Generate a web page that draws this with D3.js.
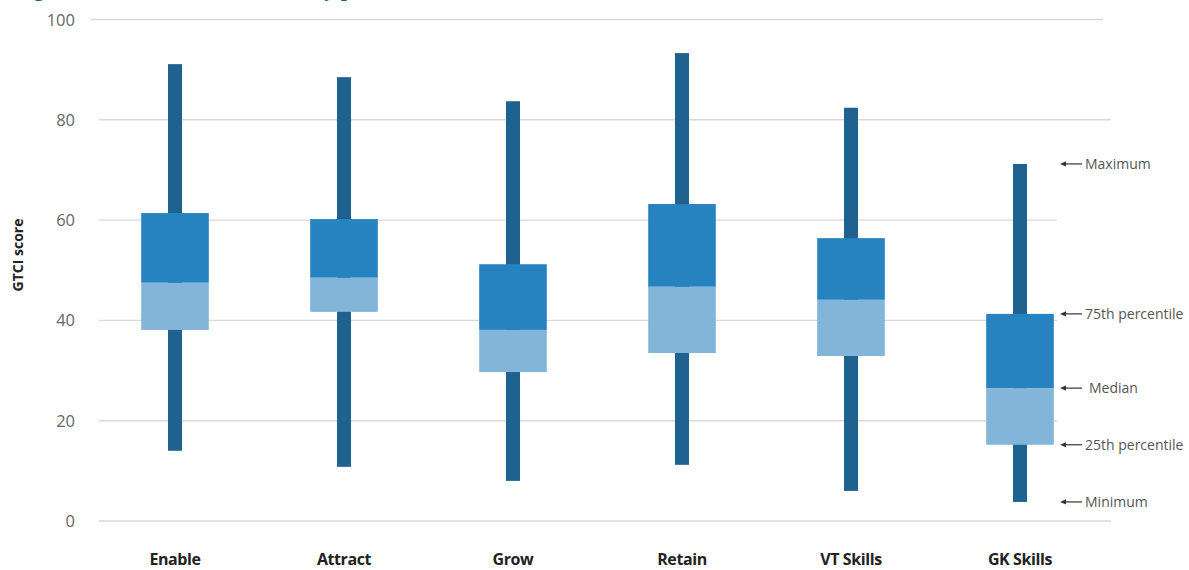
<!DOCTYPE html>
<html>
<head>
<meta charset="utf-8">
<script src="https://d3js.org/d3.v7.min.js"></script>
<style>
  body { margin: 0; background: #fff; }
  svg { display: block; }
</style>
</head>
<body>
<div id="chart"></div>
<script>
  // chart values
  const categories = ['Enable', 'Attract', 'Grow', 'Retain', 'VT Skills', 'GK Skills'];
  const minimum = [14.0, 10.8, 8.0, 11.2, 6.0, 3.8];
  const q1 = [38.1, 41.7, 29.7, 33.5, 32.9, 15.2];
  const median = [47.5, 48.5, 38.1, 46.7, 44.1, 26.5];
  const q3 = [61.4, 60.2, 51.2, 63.2, 56.4, 41.3];
  const maximum = [91.1, 88.5, 83.7, 93.3, 82.4, 71.2];
  const yTicks = [0, 20, 40, 60, 80, 100];
  const legendLabels = ['Maximum', '75th percentile', 'Median', '25th percentile', 'Minimum'];

  const width = 1189, height = 570;
  const svg = d3.select('#chart').append('svg')
    .attr('width', width)
    .attr('height', height);

  const x = d3.scaleBand().domain(categories).range([90.5, 1104.5]).padding(0);
  const y = d3.scaleLinear().domain([0, 100]).range([521, 19.5]);

  const rows = categories.map((c, i) => ({
    cat: c, min: minimum[i], q1: q1[i], med: median[i], q3: q3[i], max: maximum[i]
  }));

  // title, almost entirely cut off at the top of the crop
  svg.append('text')
    .attr('x', 14).attr('y', -4)
    .style('font-family', 'Liberation Serif, serif')
    .style('font-weight', 'bold')
    .style('font-size', '22px')
    .style('fill', '#1f5f8f')
    .text('Figure 4: Distribution of scores by pillar');

  // gridlines
  svg.append('g').selectAll('line')
    .data(yTicks)
    .enter().append('line')
    .attr('x1', d => d === 100 ? 91 : 99)
    .attr('x2', d => d === 100 ? 1103 : 1111)
    .attr('y1', d => y(d))
    .attr('y2', d => y(d))
    .style('stroke', '#d9d9d9')
    .style('stroke-width', 1.4);

  // tick labels
  svg.append('g').selectAll('text')
    .data(yTicks)
    .enter().append('text')
    .attr('x', 75)
    .attr('y', d => y(d) + 6)
    .attr('text-anchor', 'end')
    .style('font-family', 'Open Sans, sans-serif')
    .style('font-size', '16.5px')
    .style('fill', '#666')
    .text(d => d);

  // axis title
  svg.append('text')
    .attr('transform', 'translate(23,255) rotate(-90)')
    .attr('text-anchor', 'middle')
    .style('font-family', 'Open Sans, sans-serif')
    .style('font-weight', 'bold')
    .style('font-size', '14px')
    .style('fill', '#222')
    .text('GTCI score');

  const cx = d => x(d.cat) + x.bandwidth() / 2;
  const whiskerW = x.bandwidth() * 0.083;
  const boxW = x.bandwidth() * 0.40;

  const g = svg.append('g');

  // whiskers
  g.selectAll('rect.whisker')
    .data(rows)
    .enter().append('rect')
    .attr('class', 'whisker')
    .attr('x', d => cx(d) - whiskerW / 2)
    .attr('width', whiskerW)
    .attr('y', d => y(d.max))
    .attr('height', d => y(d.min) - y(d.max))
    .style('fill', '#1f6290');

  // upper box (median to q3)
  g.selectAll('rect.upper')
    .data(rows)
    .enter().append('rect')
    .attr('class', 'upper')
    .attr('x', d => cx(d) - boxW / 2)
    .attr('width', boxW)
    .attr('y', d => y(d.q3))
    .attr('height', d => y(d.med) - y(d.q3))
    .style('fill', '#2683c0');

  // lower box (q1 to median)
  g.selectAll('rect.lower')
    .data(rows)
    .enter().append('rect')
    .attr('class', 'lower')
    .attr('x', d => cx(d) - boxW / 2)
    .attr('width', boxW)
    .attr('y', d => y(d.med))
    .attr('height', d => y(d.q1) - y(d.med))
    .style('fill', '#83b5da');

  // category labels
  svg.append('g').selectAll('text')
    .data(categories)
    .enter().append('text')
    .attr('x', d => x(d) + x.bandwidth() / 2)
    .attr('y', 565)
    .attr('text-anchor', 'middle')
    .style('font-family', 'Open Sans, sans-serif')
    .style('font-weight', 'bold')
    .style('font-size', '16px')
    .style('letter-spacing', '-0.4px')
    .style('fill', '#222')
    .text(d => d);

  // legend annotations next to the last box
  const last = rows[rows.length - 1];
  const legendVals = [last.max, last.q3, last.med, last.q1, last.min];

  svg.append('rect')
    .attr('x', 1057).attr('y', y(76))
    .attr('width', 132).attr('height', y(1.5) - y(76))
    .style('fill', '#fff');

  const leg = svg.append('g').selectAll('g')
    .data(legendLabels)
    .enter().append('g')
    .attr('transform', (d, i) => `translate(0,${y(legendVals[i])})`);

  leg.append('line')
    .attr('x1', 1064).attr('x2', 1082)
    .attr('y1', 0).attr('y2', 0)
    .style('stroke', '#333')
    .style('stroke-width', 1.2);

  leg.append('path')
    .attr('d', 'M1060,0 L1066,-2.6 L1066,2.6 Z')
    .style('fill', '#333');

  leg.append('text')
    .attr('x', d => d === 'Median' ? 1089 : 1085)
    .attr('y', 5)
    .style('font-family', 'Open Sans, sans-serif')
    .style('font-size', '14px')
    .style('fill', '#555')
    .text(d => d);
</script>
</body>
</html>
